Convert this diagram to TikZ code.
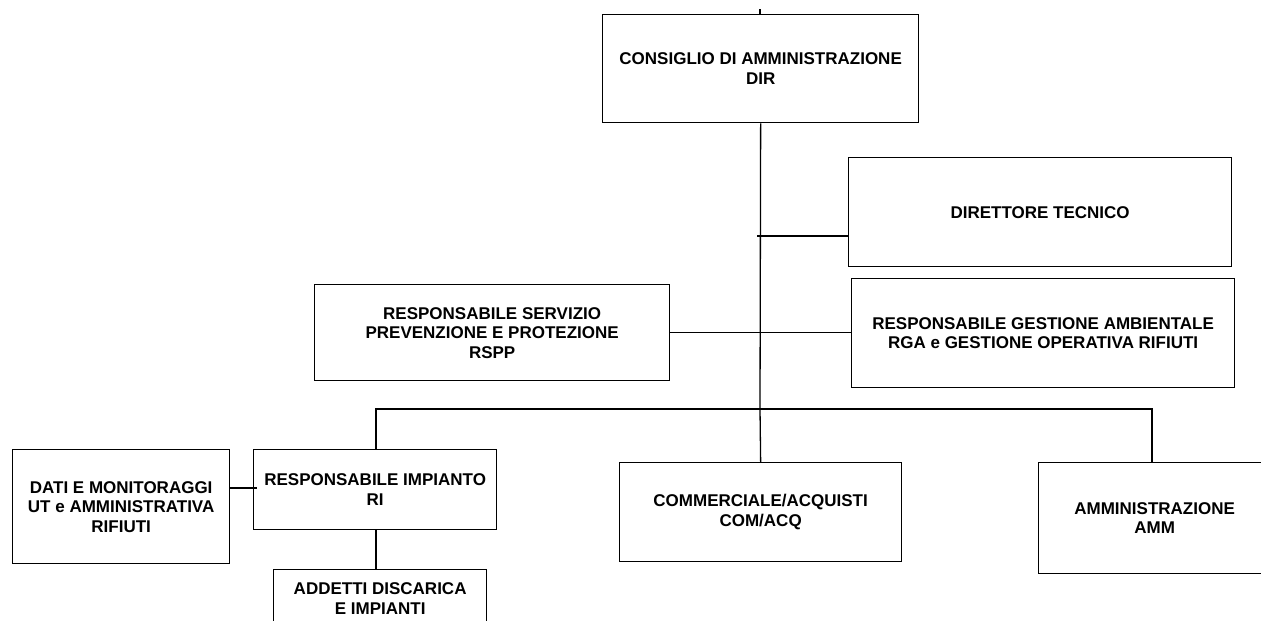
\documentclass[tikz,border=0pt]{standalone}
\usepackage{fontspec}
\setmainfont{Liberation Sans}
\begin{document}
\begin{tikzpicture}[x=1pt,y=-1pt,
  box/.style={draw=black,line width=1.3pt,rectangle,anchor=north west,align=center,
    inner sep=0pt,font=\bfseries\fontsize{17}{19.5}\selectfont,text=black},
  link/.style={draw=black,line width=1.3pt}]
\useasboundingbox (0,0) rectangle (1261,621);
\clip (0,0) rectangle (1261,621);
\node[box,minimum width=316pt,minimum height=108pt] (cda) at (602,14) {CONSIGLIO DI AMMINISTRAZIONE\\DIR};
\node[box,minimum width=383pt,minimum height=109pt] (dt) at (848,157) {DIRETTORE TECNICO};
\node[box,minimum width=383pt,minimum height=109pt] (rga) at (851,278) {RESPONSABILE GESTIONE AMBIENTALE\\RGA e GESTIONE OPERATIVA RIFIUTI};
\node[box,minimum width=355pt,minimum height=96pt] (rspp) at (314,284) {RESPONSABILE SERVIZIO\\PREVENZIONE E PROTEZIONE\\RSPP};
\node[box,minimum width=217pt,minimum height=114pt] (dati) at (12,449) {DATI E MONITORAGGI\\UT e AMMINISTRATIVA\\RIFIUTI};
\node[box,minimum width=243pt,minimum height=80pt] (ri) at (253,449) {RESPONSABILE IMPIANTO\\RI};
\node[box,minimum width=213pt,minimum height=58pt] (add) at (273,569) {ADDETTI DISCARICA\\E IMPIANTI};
\node[box,minimum width=282pt,minimum height=99pt] (comm) at (619,462) {COMMERCIALE/ACQUISTI\\COM/ACQ};
\node[box,minimum width=232pt,minimum height=111pt] (amm) at (1038,462) {AMMINISTRAZIONE\\AMM};
\coordinate (top) at (760,9);
\coordinate (busc) at (760,409);
\coordinate (busl) at (376,409);
\coordinate (busr) at (1152,409);
\coordinate (jdt) at (757,236);
\coordinate (jdati) at (229,488);
\coordinate (jri) at (376,529);
\draw[link] (top) -- (top |- cda.north);
\draw[link] (cda.south) -- (busc);
\draw[link] (jdt) -- (jdt -| dt.west);
\draw[link] (rspp.east) -- (rspp.east -| rga.west);
\draw[link] (busl |- ri.north) -- (busl) -- (busr) -- (busr |- amm.north);
\draw[link] (busc) -- (comm.north);
\draw[link] (jdati) -- ([xshift=4pt]jdati -| ri.west);
\draw[link] (jri) -- (jri |- add.north);
\end{tikzpicture}
\end{document}
